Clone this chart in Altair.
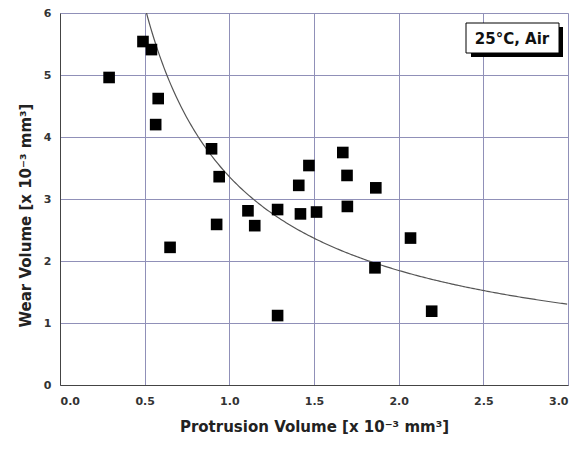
import altair as alt
import pandas as pd

# Scatter data
protrusion = [0.29, 0.49, 0.54, 0.58, 0.565, 0.65, 0.895, 0.94, 0.925, 1.11, 1.15,
              1.285, 1.285, 1.41, 1.42, 1.47, 1.515, 1.67, 1.695, 1.697, 1.865,
              1.86, 2.07, 2.195]
wear = [4.96, 5.54, 5.41, 4.62, 4.20, 2.22, 3.81, 3.36, 2.59, 2.81, 2.57,
        1.12, 2.83, 3.22, 2.76, 3.54, 2.79, 3.75, 3.38, 2.88, 3.18,
        1.89, 2.37, 1.19]

# Fitted power-law curve parameters (y = a * x^b)
fit_a = 3.36
fit_b = -0.863

label_text = ["25°C, Air"]

df = pd.DataFrame({"x": protrusion, "y": wear})

FONT = "DejaVu Sans"

xscale = alt.Scale(domain=[0, 3.0], nice=False, zero=False)
yscale = alt.Scale(domain=[0, 6], nice=False)

xaxis = alt.Axis(values=[0, 0.5, 1.0, 1.5, 2.0, 2.5, 3.0], format=".1f",
                 title="Protrusion Volume [x 10⁻³ mm³]",
                 grid=True, gridColor="#9090b8", gridWidth=1,
                 domainColor="#444", tickSize=0, labelPadding=10,
                 labelFont=FONT, labelFontWeight="bold", labelFontSize=11, labelColor="#333",
                 titleFont=FONT, titleFontWeight="bold", titleFontSize=15, titleColor="#222",
                 titlePadding=13)
yaxis = alt.Axis(values=[0, 1, 2, 3, 4, 5, 6], format="d",
                 title="Wear Volume [x 10⁻³ mm³]",
                 grid=True, gridColor="#9090b8", gridWidth=1,
                 domainColor="#444", tickSize=0, labelPadding=9,
                 labelFont=FONT, labelFontWeight="bold", labelFontSize=11, labelColor="#333",
                 titleFont=FONT, titleFontWeight="bold", titleFontSize=15, titleColor="#222",
                 titlePadding=10, titleY=202)

points = alt.Chart(df).mark_square(color="black", size=135, opacity=1).encode(
    x=alt.X("x:Q", scale=xscale, axis=xaxis),
    y=alt.Y("y:Q", scale=yscale, axis=yaxis),
)

curve = alt.Chart(alt.sequence(0.505, 3.0001, 0.01, as_="x")).transform_calculate(
    y=f"{fit_a} * pow(datum.x, {fit_b})"
).mark_line(color="#555", strokeWidth=1.2, clip=True).encode(
    x=alt.X("x:Q", scale=xscale),
    y=alt.Y("y:Q", scale=yscale),
)

lab = pd.DataFrame({"t": label_text})
shadow = alt.Chart(lab).mark_rect(color="black").encode(
    x=alt.value(411), x2=alt.value(503), y=alt.value(14), y2=alt.value(44))
box = alt.Chart(lab).mark_rect(color="white", stroke="black", strokeWidth=1).encode(
    x=alt.value(406), x2=alt.value(499), y=alt.value(10), y2=alt.value(40))
txt = alt.Chart(lab).mark_text(font=FONT, fontWeight="bold", fontSize=15, color="#111").encode(
    x=alt.value(452), y=alt.value(26), text="t:N")

chart = alt.layer(curve, points, shadow, box, txt).properties(
    width=508, height=372,
    autosize=alt.AutoSizeParams(type="none"),
    padding={"left": 52, "top": 5, "right": 6, "bottom": 59},
).configure_view(stroke="#444", strokeWidth=1).configure(background="white")

chart.save("out.html", embed_options={"renderer": "svg", "actions": False})
